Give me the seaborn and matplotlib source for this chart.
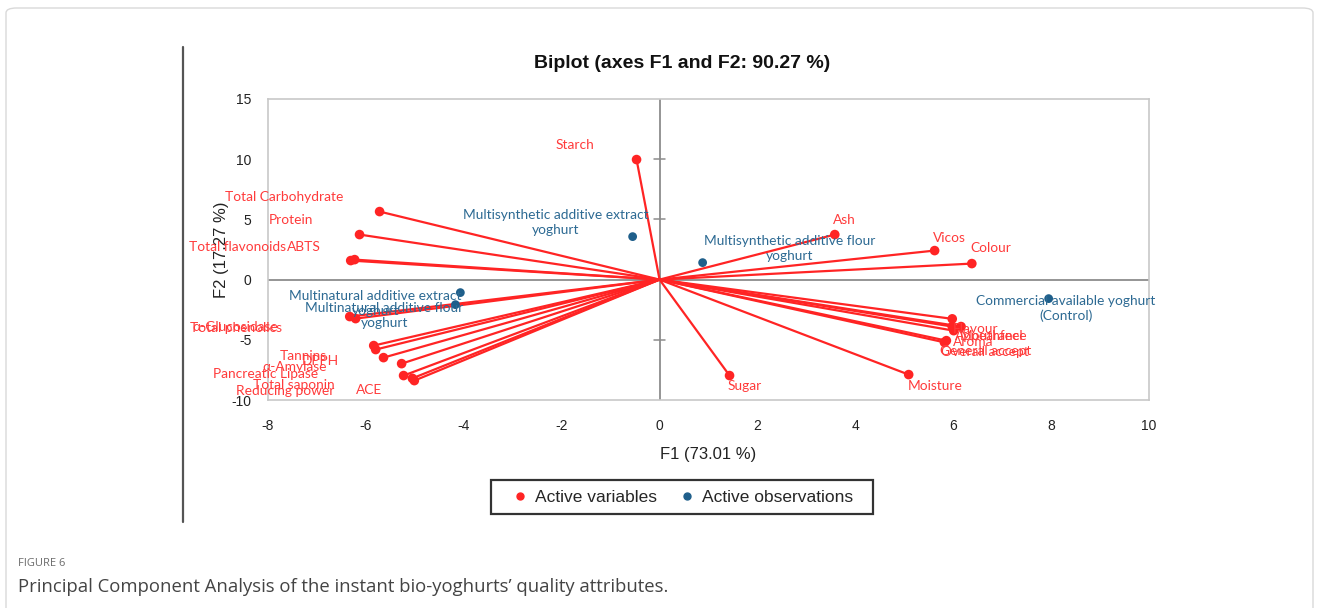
import matplotlib
matplotlib.use("Agg")
import matplotlib.pyplot as plt
from matplotlib import font_manager
from matplotlib.lines import Line2D
from matplotlib.patches import FancyBboxPatch
import seaborn as sns

# ---- PCA biplot data (F1, F2 coordinates) ----
var_names = [
    "Starch", "Total Carbohydrate", "Protein", "Total flavonoids", "ABTS",
    "α-Glucosidase", "Total phenolics", "Tannins", "DPPH", "α-Amylase",
    "Pancreatic Lipase", "Total saponin", "Reducing power", "ACE",
    "Ash", "Vicos", "Colour", "Flavour", "Appearance", "Mouthfeel",
    "Aroma", "Overall accept", "General accept", "Moisture", "Sugar",
]
var_f1 = [-0.47, -5.72, -6.13, -6.31, -6.23,
          -6.33, -6.21, -5.84, -5.80, -5.64,
          -5.27, -5.23, -5.01, -5.05,
          3.58, 5.62, 6.38, 6.16, 5.98, 5.98,
          6.01, 5.86, 5.82, 5.09, 1.43]
var_f2 = [9.97, 5.65, 3.74, 1.58, 1.66,
          -3.07, -3.24, -5.48, -5.81, -6.48,
          -6.98, -7.97, -8.39, -8.20,
          3.74, 2.41, 1.33, -3.90, -3.26, -3.90,
          -4.24, -5.07, -5.21, -7.89, -7.97]

obs_names = [
    "Multisynthetic additive extract\nyoghurt",
    "Multisynthetic additive flour\nyoghurt",
    "Commercial available yoghurt\n(Control)",
    "Multinatural additive extract\nyoghurt",
    "Multinatural additive flour\nyoghurt",
]
obs_f1 = [-0.55, 0.88, 7.95, -4.07, -4.17]
obs_f2 = [3.57, 1.41, -1.58, -1.08, -2.08]

x_ticks = [-8, -6, -4, -2, 0, 2, 4, 6, 8, 10]
y_ticks = [-10, -5, 0, 5, 10, 15]

# ---- label placement (offsets in pixels from each point) ----
var_label_offset = {
    "Starch": (-62, 15), "Total Carbohydrate": (-95, 15), "Protein": (-69, 15),
    "Total flavonoids": (-113, 14), "ABTS": (-51, 13),
    "α-Glucosidase": (-114, -10), "Total phenolics": (-120, -9),
    "Tannins": (-70, -10), "DPPH": (-55, -11), "α-Amylase": (-89, -9),
    "Pancreatic Lipase": (-136, -10), "Total saponin": (-110, -9),
    "Reducing power": (-129, -10), "ACE": (-43, -12),
    "Ash": (10, 15), "Vicos": (15, 13), "Colour": (19, 16),
    "Flavour": (15, -2), "Appearance": (39, -17), "Mouthfeel": (39, -9),
    "Aroma": (19, -11), "Overall accept": (39, -11), "General accept": (41, -9),
    "Moisture": (27, -11), "Sugar": (15, -10),
}
obs_label_offset = [(-77, 14), (87, 14), (17, -10), (-85, -11), (-71, -11)]

RED = "#FF2424"
RED_TEXT = "#FF3B3B"
BLUE = "#1F5F8B"
BLUE_TEXT = "#2D6A93"

sns.set_theme(style="white")
installed = {f.name for f in font_manager.fontManager.ttflist}
narrow = "Liberation Sans Narrow" if "Liberation Sans Narrow" in installed else "Liberation Sans"
plt.rcParams["font.family"] = ["Lato", "DejaVu Sans"]

W, H = 1322, 608
fig = plt.figure(figsize=(W / 100, H / 100), dpi=100)
fig.patch.set_facecolor("white")

# axes frame in pixel terms
L, R, T, B = 268, 1149, 99, 400
ax = fig.add_axes([L / W, 1 - B / H, (R - L) / W, (B - T) / H])

ax.set_xlim(-8, 10)
ax.set_ylim(-10, 15)

# zero axes
ax.axhline(0, color="#8C8C8C", lw=1.3, zorder=1)
ax.axvline(0, color="#8C8C8C", lw=1.3, zorder=1)
for yt in y_ticks:
    if yt not in (-10, 15, 0):
        ax.plot([-0.12, 0.12], [yt, yt], color="#8C8C8C", lw=1.1, zorder=1)

# variable vectors
for x, y in zip(var_f1, var_f2):
    ax.plot([0, x], [0, y], color=RED, lw=1.6, zorder=2, solid_capstyle="round")

sns.scatterplot(x=var_f1, y=var_f2, color=RED, s=48, edgecolor="none", ax=ax, zorder=3)
sns.scatterplot(x=obs_f1, y=obs_f2, color=BLUE, s=40, edgecolor="none", ax=ax, zorder=3)

for name, x, y in zip(var_names, var_f1, var_f2):
    dx, dy = var_label_offset[name]
    ax.annotate(name, (x, y), xytext=(dx, dy), textcoords="offset pixels",
                ha="center", va="center", color=RED_TEXT, fontsize=9.9, zorder=4)

for name, x, y, (dx, dy) in zip(obs_names, obs_f1, obs_f2, obs_label_offset):
    ax.annotate(name, (x, y), xytext=(dx, dy), textcoords="offset pixels",
                ha="center", va="center", multialignment="center",
                color=BLUE_TEXT, fontsize=9.9, linespacing=1.3, zorder=4)

ax.set_xticks(x_ticks)
ax.set_yticks(y_ticks)
ax.set_xticklabels([str(v) for v in x_ticks], family=narrow, fontsize=10, color="#222222")
ax.set_yticklabels([str(v) for v in y_ticks], family=narrow, fontsize=10, color="#222222")
ax.tick_params(axis="both", length=0)
ax.tick_params(axis="y", pad=12)
ax.tick_params(axis="x", pad=14)
for s in ax.spines.values():
    s.set_color("#C8C8C8")
    s.set_linewidth(1.2)
ax.grid(False)

ax.set_xlabel("F1 (73.01 %)", family=["Liberation Sans", "DejaVu Sans"], fontsize=12,
              color="#222222", labelpad=10)
ax.set_ylabel("F2 (17.27 %)", family=["Liberation Sans", "DejaVu Sans"], fontsize=12,
              color="#222222", labelpad=4)
ax.yaxis.set_label_coords((229 - L) / (R - L), (B - 250) / (B - T))

fig.text(682 / W, 1 - 63 / H, "Biplot (axes F1 and F2: 90.27 %)", family=narrow,
         fontweight="bold", fontsize=14, ha="center", va="center", color="#111111")

handles = [
    Line2D([], [], marker="o", ls="none", color=RED, markersize=5, label="Active variables"),
    Line2D([], [], marker="o", ls="none", color=BLUE, markersize=5, label="Active observations  "),
]
leg = fig.legend(handles=handles, loc="center", bbox_to_anchor=(682 / W, 1 - 497 / H),
                 ncol=2, frameon=True, fancybox=False, handletextpad=-0.2,
                 columnspacing=0.6, borderpad=0.55, handlelength=2.2,
                 prop={"family": narrow, "size": 12.5})
leg.get_frame().set_edgecolor("#000000")
leg.get_frame().set_linewidth(1.6)

# page decorations
fig.add_artist(Line2D([183 / W, 183 / W], [1 - 47 / H, 1 - 522 / H],
                      transform=fig.transFigure, color="#555555", lw=1.6))
fig.add_artist(FancyBboxPatch((6 / W, -0.05), (1313 - 6) / W, (1 - 8 / H) + 0.05,
                              boxstyle="round,pad=0,rounding_size=0.008",
                              transform=fig.transFigure, fill=False,
                              edgecolor="#D9D9D9", lw=1.0))

fig.text(18 / W, 1 - 564 / H, "FIGURE 6", family=["Open Sans", "DejaVu Sans"],
         fontsize=8, color="#6B6B6B", ha="left", va="center")
fig.text(18 / W, 1 - 587 / H,
         "Principal Component Analysis of the instant bio-yoghurts\u2019 quality attributes.",
         family=["Open Sans", "DejaVu Sans"], fontsize=13.3, color="#444444",
         ha="left", va="center")

fig.savefig("out.png", dpi=100, facecolor="white")
